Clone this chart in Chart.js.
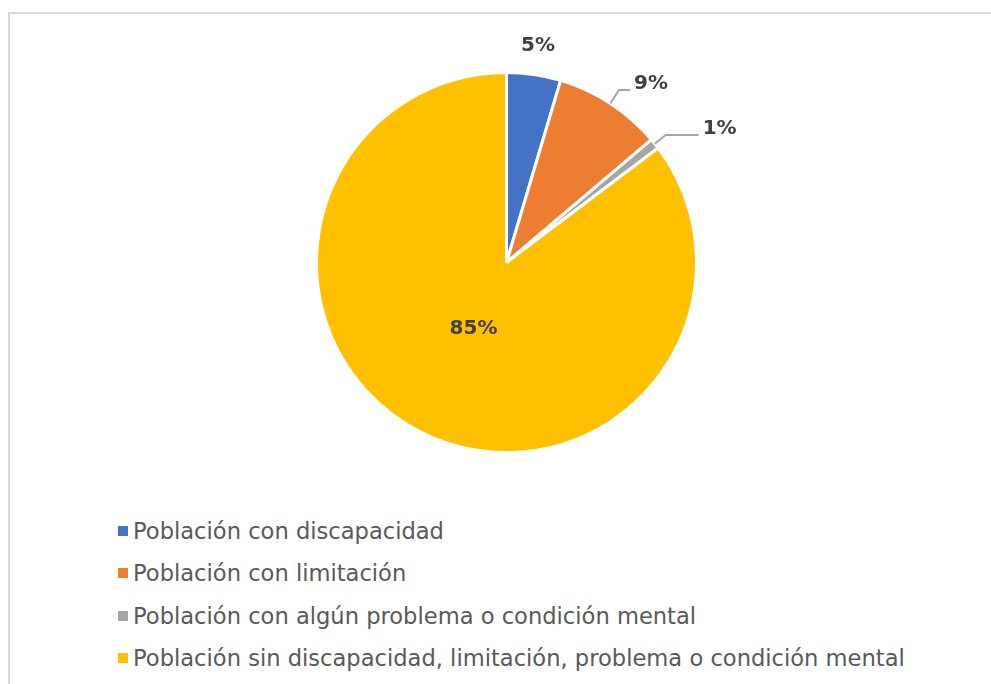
<!DOCTYPE html>
<html>
<head>
<meta charset="utf-8">
<script src="https://cdn.jsdelivr.net/npm/chart.js@4.4.1/dist/chart.umd.min.js"></script>
<style>
  html, body { margin: 0; padding: 0; background: #fff; overflow: hidden; }
  body { width: 991px; height: 684px; position: relative; font-family: "DejaVu Sans", sans-serif; }
  .frame { position: absolute; left: 8px; top: 12px; width: 1000px; height: 700px; border: 2px solid #d9d9d9; box-sizing: border-box; }
  .wrap { position: absolute; left: 0; top: 0; width: 991px; height: 480px; }
  #legend { position: absolute; left: 118px; top: 510px; margin: 0; padding: 0; list-style: none; }
  #legend li { display: flex; align-items: center; height: 42.3px; color: #595959; font-size: 22.6px; white-space: nowrap; }
  #legend li span { display: inline-block; width: 10px; height: 10px; margin-right: 5px; }
</style>
</head>
<body>
<div class="frame"></div>
<div class="wrap"><canvas id="pieChart"></canvas></div>
<ul id="legend"></ul>
<script>
// Categories and their shares (percent of population)
const categories = [
  'Población con discapacidad',
  'Población con limitación',
  'Población con algún problema o condición mental',
  'Población sin discapacidad, limitación, problema o condición mental'
];
const shares = [4.6, 9.2, 0.9, 85.3];
const sliceColors = ['#4472C4', '#ED7D31', '#A5A5A5', '#FFC000'];

// How each percent label is placed (style only)
const labelPlacement = [
  { mode: 'outside', gap: 29 },
  { mode: 'leader', elbow: 16, run: 11 },
  { mode: 'leader', elbow: 14, run: 33 },
  { mode: 'inside', frac: 0.39 }
];

// Draws the percent labels, with leader lines for the small slices
const percentLabels = {
  id: 'percentLabels',
  afterDatasetsDraw(chart) {
    const ctx = chart.ctx;
    const meta = chart.getDatasetMeta(0);
    const values = chart.data.datasets[0].data;
    const total = values.reduce((a, b) => a + b, 0);
    ctx.save();
    ctx.font = 'bold 20px "DejaVu Sans"';
    ctx.fillStyle = '#404040';
    ctx.textBaseline = 'middle';
    meta.data.forEach((arc, i) => {
      const p = arc.getProps(['x', 'y', 'startAngle', 'endAngle', 'outerRadius'], true);
      const mid = (p.startAngle + p.endAngle) / 2;
      const cos = Math.cos(mid), sin = Math.sin(mid);
      const text = Math.round(values[i] / total * 100) + '%';
      const place = labelPlacement[i];
      if (place.mode === 'inside') {
        const r = p.outerRadius * place.frac;
        ctx.textAlign = 'center';
        ctx.fillText(text, p.x + cos * r, p.y + sin * r);
      } else if (place.mode === 'outside') {
        const r = p.outerRadius + place.gap;
        ctx.textAlign = 'center';
        ctx.fillText(text, p.x + cos * r, p.y + sin * r);
      } else {
        const sx = p.x + cos * p.outerRadius, sy = p.y + sin * p.outerRadius;
        const ex = p.x + cos * (p.outerRadius + place.elbow), ey = p.y + sin * (p.outerRadius + place.elbow);
        const hx = ex + place.run;
        ctx.strokeStyle = '#A6A6A6';
        ctx.lineWidth = 2;
        ctx.beginPath();
        ctx.moveTo(sx, sy);
        ctx.lineTo(ex, ey);
        ctx.lineTo(hx, ey);
        ctx.stroke();
        ctx.textAlign = 'left';
        ctx.fillText(text, hx + 4, ey - 6);
      }
    });
    ctx.restore();
  }
};

// Builds the vertical legend from the chart's own legend items
const htmlLegend = {
  id: 'htmlLegend',
  afterUpdate(chart) {
    const ul = document.getElementById('legend');
    ul.innerHTML = '';
    chart.options.plugins.legend.labels.generateLabels(chart).forEach(item => {
      const li = document.createElement('li');
      const box = document.createElement('span');
      box.style.background = item.fillStyle;
      li.appendChild(box);
      li.appendChild(document.createTextNode(item.text));
      ul.appendChild(li);
    });
  }
};

const ctx = document.getElementById('pieChart').getContext('2d');

const pieChart = new Chart(ctx, {
  type: 'pie',
  data: {
    labels: categories,
    datasets: [{
      data: shares,
      backgroundColor: sliceColors,
      borderColor: '#ffffff',
      borderWidth: 3
    }]
  },
  options: {
    responsive: true,
    maintainAspectRatio: false,
    animation: false,
    layout: { padding: { top: 71, bottom: 26, left: 110, right: 88 } },
    plugins: {
      legend: { display: false },
      tooltip: { enabled: false }
    }
  },
  plugins: [percentLabels, htmlLegend]
});
</script>
</body>
</html>
